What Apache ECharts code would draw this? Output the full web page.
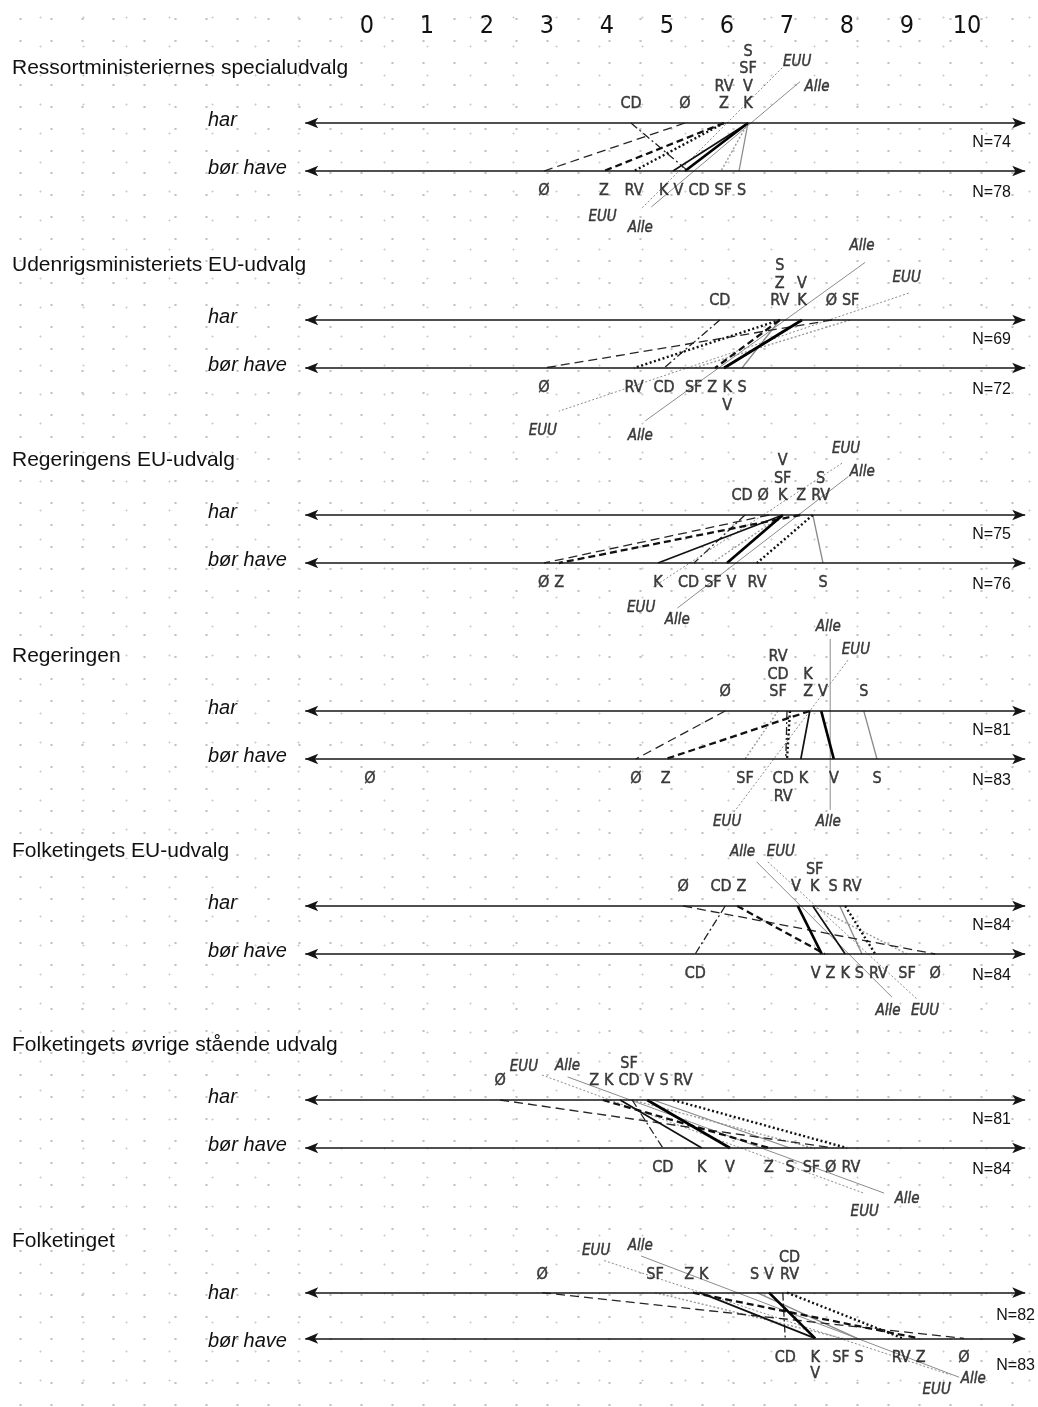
<!DOCTYPE html>
<html><head><meta charset="utf-8">
<script src="https://cdn.jsdelivr.net/npm/echarts@6/dist/echarts.min.js"></script>
<style>
html,body{margin:0;padding:0;background:#fff;}
#c{width:1038px;height:1407px;
background-image: radial-gradient(circle, #c2c2c2 0.9px, transparent 1.4px), radial-gradient(circle, #cfcfcf 0.8px, transparent 1.3px);
background-size: 31px 22px, 43px 29px;
background-position: 5px 8px, 19px 3px;}
</style></head><body><div id="c"></div>
<script>
// ---------------- DATA ----------------
const parties = ['Ø','Z','RV','K','V','CD','SF','S','EUU','Alle'];
const panelTitles = [
  'Ressortministeriernes specialudvalg',
  'Udenrigsministeriets EU-udvalg',
  'Regeringens EU-udvalg',
  'Regeringen',
  'Folketingets EU-udvalg',
  'Folketingets øvrige stående udvalg',
  'Folketinget'
];
const rowLabels = ['har','bør have'];
const tickLabels = ['0','1','2','3','4','5','6','7','8','9','10'];
const nHar = [74, 69, 75, 81, 84, 81, 82];
const nBor = [78, 72, 76, 83, 84, 84, 83];
// order of each row: Ø, Z, RV, K, V, CD, SF, S, EUU, Alle
const harValues = [
  [5.30, 5.95, 5.95, 6.35, 6.35, 4.40, 6.35, 6.35, 6.00, 6.40],
  [7.75, 6.88, 6.88, 7.25, 7.25, 5.88, 8.05, 6.88, 7.70, 6.97],
  [6.70, 7.22, 7.43, 6.93, 6.93, 6.30, 6.93, 7.43, 6.60, 7.19],
  [5.97, 7.38, 7.05, 7.38, 7.57, 7.00, 6.85, 8.28, 7.38, 7.72],
  [5.27, 6.17, 7.97, 7.43, 7.18, 5.97, 7.43, 7.88, 7.48, 7.23],
  [2.22, 3.93, 5.10, 4.22, 4.67, 4.42, 4.42, 4.77, 4.05, 4.39],
  [2.92, 5.43, 7.00, 5.55, 6.70, 6.93, 4.80, 6.50, 5.57, 6.17]
];
const borValues = [
  [2.95, 3.95, 4.45, 5.10, 5.30, 5.35, 5.90, 6.20, 5.20, 5.45],
  [2.95, 5.80, 4.45, 5.95, 5.95, 4.95, 5.45, 6.25, 5.33, 5.86],
  [2.95, 3.20, 6.50, 4.85, 6.00, 5.45, 5.75, 7.60, 5.38, 6.15],
  [4.48, 4.98, 7.00, 7.23, 7.78, 6.98, 6.30, 8.50, 6.78, 7.72],
  [9.47, 7.63, 8.47, 7.97, 7.58, 5.47, 9.00, 8.25, 8.35, 8.03],
  [7.77, 6.70, 8.00, 5.58, 6.05, 4.93, 7.43, 7.05, 6.23, 6.57],
  [9.95, 9.20, 8.93, 7.47, 7.47, 6.97, 7.93, 8.17, 7.88, 8.17]
];
// label stacks (first entry nearest the line)
const harStacks = [
  [['CD'],['Ø'],['Z','RV'],['K','V','SF','S']],
  [['CD'],['RV','Z','S'],['K','V'],['Ø'],['SF']],
  [['CD'],['Ø'],['K','SF','V'],['Z'],['RV','S']],
  [['Ø'],['SF','CD','RV'],['Z','K'],['V'],['S']],
  [['Ø'],['CD'],['Z'],['V'],['K','SF'],['S'],['RV']],
  [['Ø'],['Z'],['K'],['CD','SF'],['V'],['S'],['RV']],
  [['Ø'],['SF'],['Z'],['K'],['S'],['V'],['RV','CD']]
];
const borStacks = [
  [['Ø'],['Z'],['RV'],['K'],['V'],['CD'],['SF'],['S']],
  [['Ø'],['RV'],['CD'],['SF'],['Z'],['K','V'],['S']],
  [['Ø'],['Z'],['K'],['CD'],['SF'],['V'],['RV'],['S']],
  [['Ø'],['Z'],['SF'],['CD','RV'],['K'],['V'],['S']],
  [['CD'],['V'],['Z'],['K'],['S'],['RV'],['SF'],['Ø']],
  [['CD'],['K'],['V'],['Z'],['S'],['SF'],['Ø'],['RV']],
  [['CD'],['K','V'],['SF'],['S'],['RV'],['Z'],['Ø']]
];
const borExtraLabels = [[], [], [], [['Ø', 0.05]], [], [], []];

// ---------------- LAYOUT / STYLE ----------------
const X_MIN = -2, X_MAX = 11, PX = 60, ZERO_X = 367;
const GRID_LEFT = ZERO_X + X_MIN * PX;
const GRID_W = (X_MAX - X_MIN) * PX;
const HAR_Y = [123, 320, 515, 711, 906, 1100, 1296];
const ROW = 48;
const Y_MIN = -1.5, Y_MAX = 2.5;
const LINE_FROM = -1.03, LINE_TO = 10.97;
// extension of EUU / Alle lines beyond the rows, in row units: [EUU, Alle]
const extTop = [[1.15,0.86],[0.56,1.2],[1.08,0.8],[1.06,1.5],[0.92,0.92],[0.52,0.48],[0.7,0.8]];
const extBot = [[0.8,0.75],[0.9,1.1],[0.5,0.94],[1.1,1.06],[0.96,0.9],[0.94,0.94],[0.8,0.85]];
// pixel offsets of the EUU / Alle end labels from the line ends:
// [EUU top, EUU bottom, Alle top, Alle bottom]
const extLabelOff = [
  [[15,-6],[-38,8],[17,5],[-11,21]],
  [[-2,-15],[-16,20],[-3,-16],[-5,15]],
  [[4,-14],[-12,21],[14,-4],[0,12]],
  [[8,-10],[-7,10],[-2,-12],[-2,12]],
  [[13,-10],[7,11],[-14,-10],[-4,14]],
  [[-18,-8],[1,19],[0,-11],[23,6]],
  [[-8,-10],[-14,16],[-1,-10],[14,2]]
];
const N_RIGHT = [1011,1011,1011,1011,1011,1011,1035];
const SANS = '"Liberation Sans",Arial,sans-serif';

const ctx = document.createElement('canvas').getContext('2d');
function hasFont(name) {
  const s = 'abcdefghijRVSFCD0123456789';
  ctx.font = '40px monospace';
  const a = ctx.measureText(s).width;
  ctx.font = '40px "' + name + '", monospace';
  const b = ctx.measureText(s).width;
  return Math.abs(a - b) > 1;
}
const narrowChoices = [
  {name: 'Liberation Sans Narrow', label: 18, tick: 27, ext: 17},
  {name: 'Arial Narrow', label: 18, tick: 27, ext: 17},
  {name: 'DejaVu Sans Condensed', label: 16, tick: 25, ext: 15},
  {name: 'Liberation Sans', label: 16.5, tick: 26, ext: 15.5}
];
const FONTCHOICE = narrowChoices.find(f => hasFont(f.name)) || narrowChoices[3];
const NARROW = '"' + FONTCHOICE.name + '",' + SANS;
const LABEL_SIZE = FONTCHOICE.label, EXT_SIZE = FONTCHOICE.ext, TICK_SIZE = FONTCHOICE.tick;

const partyStyle = {
  'Ø':   {color:'#262626', width:1.3, type:[9,5], z:3},
  'Z':   {color:'#111',    width:2.3, type:[7,4], z:4},
  'RV':  {color:'#111',    width:2.4, type:[2,2.5], z:4},
  'K':   {color:'#111',    width:1.7, type:'solid', z:4},
  'V':   {color:'#000',    width:2.7, type:'solid', z:4},
  'CD':  {color:'#222',    width:1.3, type:[8,3,2,3], z:3},
  'SF':  {color:'#9a9a9a', width:1.4, type:[2,2], z:2},
  'S':   {color:'#8a8a8a', width:1.3, type:'solid', z:2},
  'EUU': {color:'#8c8c8c', width:1.0, type:[2,2], z:2},
  'Alle':{color:'#8c8c8c', width:1.0, type:'solid', z:2}
};

function tw(t, size, italic) {
  ctx.font = (italic ? 'italic ' : '') + size + 'px ' + NARROW;
  return ctx.measureText(t).width;
}
function spread(items, gap) {
  items.sort((a, b) => a.x - b.x);
  for (let it = 0; it < 300; it++) {
    let moved = false;
    for (let i = 0; i < items.length - 1; i++) {
      const a = items[i], b = items[i + 1];
      const need = (a.w + b.w) / 2 + gap - (b.x - a.x);
      if (need > 0.01) { a.x -= need / 2; b.x += need / 2; moved = true; }
    }
    if (!moved) break;
  }
}

const grids = [], xAxes = [], yAxes = [], series = [], graphics = [];
const idx = name => parties.indexOf(name);
const textBold = {textBorderColor: '#111', textBorderWidth: 0.45};

panelTitles.forEach((title, p) => {
  grids.push({left: GRID_LEFT, width: GRID_W, top: HAR_Y[p] - (Y_MAX - 1) * ROW, height: (Y_MAX - Y_MIN) * ROW});
  xAxes.push({
    gridIndex: p, type: 'value', min: X_MIN, max: X_MAX, interval: 1,
    show: p === 0, position: 'top',
    axisLine: {show: false}, axisTick: {show: false}, splitLine: {show: false},
    axisLabel: {
      show: p === 0, margin: 12, fontSize: TICK_SIZE, fontFamily: NARROW, color: '#111',
      formatter: v => (v >= 0 && v <= 10 && Math.round(v) === v) ? tickLabels[v] : ''
    }
  });
  yAxes.push({gridIndex: p, type: 'value', min: Y_MIN, max: Y_MAX, show: false});

  // party lines
  parties.forEach((name, i) => {
    const h = harValues[p][i], b = borValues[p][i];
    const st = partyStyle[name];
    let data;
    if (i >= 8) {
      const j = i - 8, s = h - b;
      const et = extTop[p][j], eb = extBot[p][j];
      data = [[h + s * et, 1 + et], [h, 1], [b, 0], [b - s * eb, -eb]];
    } else {
      data = [[h, 1], [b, 0]];
    }
    series.push({
      type: 'line', xAxisIndex: p, yAxisIndex: p, data: data,
      symbol: 'none', silent: true, clip: false, z: st.z,
      lineStyle: {color: st.color, width: st.width, type: st.type, cap: 'butt'}
    });
  });

  // party labels
  const labelData = [];
  const rowsSpec = [
    {stacks: harStacks[p], vals: harValues[p], extra: [], y0: 1, dir: 1, first: 19},
    {stacks: borStacks[p], vals: borValues[p], extra: borExtraLabels[p], y0: 0, dir: -1, first: 20}
  ];
  rowsSpec.forEach(r => {
    const items = r.stacks.map(stk => ({
      texts: stk,
      x: ZERO_X + PX * r.vals[idx(stk[0])],
      w: Math.max(...stk.map(t => tw(t, LABEL_SIZE)))
    }));
    r.extra.forEach(e => items.push({texts: [e[0]], x: ZERO_X + PX * e[1], w: tw(e[0], LABEL_SIZE)}));
    spread(items, 5);
    items.forEach(it => {
      it.texts.forEach((t, k) => {
        labelData.push({
          value: [(it.x - ZERO_X) / PX, r.y0 + r.dir * (r.first + 17.5 * k) / ROW],
          label: {formatter: t}
        });
      });
    });
  });
  // EUU / Alle end labels
  [8, 9].forEach(i => {
    const name = parties[i], j = i - 8;
    const h = harValues[p][i], b = borValues[p][i], s = h - b;
    const et = extTop[p][j], eb = extBot[p][j];
    const offT = extLabelOff[p][j * 2], offB = extLabelOff[p][j * 2 + 1];
    const top = [h + s * et + offT[0] / PX, 1 + et - offT[1] / ROW];
    const bot = [b - s * eb + offB[0] / PX, -eb - offB[1] / ROW];
    [top, bot].forEach(pt => labelData.push({
      value: pt,
      label: {formatter: name, fontStyle: 'italic', fontSize: EXT_SIZE}
    }));
  });

  series.push({
    type: 'scatter', xAxisIndex: p, yAxisIndex: p, data: labelData,
    symbol: 'circle', symbolSize: 1, itemStyle: {color: 'rgba(0,0,0,0)'},
    silent: true, clip: false, z: 6,
    label: Object.assign({show: true, position: 'inside', color: '#111', fontSize: LABEL_SIZE, fontFamily: NARROW}, textBold),
    markLine: {
      silent: true, symbol: ['arrow', 'arrow'], symbolSize: [8, 13],
      label: {show: false},
      lineStyle: {color: '#151515', width: 1.7, type: 'solid'},
      data: [
        [{coord: [LINE_FROM, 1]}, {coord: [LINE_TO, 1]}],
        [{coord: [LINE_FROM, 0]}, {coord: [LINE_TO, 0]}]
      ]
    }
  });

  // texts
  const txt = (text, x, y, font, align) => ({
    type: 'text', z: 10, silent: true,
    style: {text: text, x: x, y: y, font: font, fill: '#111',
      textAlign: align, textVerticalAlign: 'middle', align: align, verticalAlign: 'middle'}
  });
  graphics.push(txt(title, 12, HAR_Y[p] - 55, '21px ' + SANS, 'left'));
  graphics.push(txt(rowLabels[0], 208, HAR_Y[p] - 3, 'italic 20px ' + SANS, 'left'));
  graphics.push(txt(rowLabels[1], 208, HAR_Y[p] + ROW - 3, 'italic 20px ' + SANS, 'left'));
  graphics.push(txt('N=' + nHar[p], N_RIGHT[p], HAR_Y[p] + 20, '16px ' + SANS, 'right'));
  graphics.push(txt('N=' + nBor[p], N_RIGHT[p], HAR_Y[p] + ROW + 22, '16px ' + SANS, 'right'));
});

const chart = echarts.init(document.getElementById('c'), null, {renderer: 'canvas'});
chart.setOption({
  animation: false,
  backgroundColor: 'transparent',
  grid: grids, xAxis: xAxes, yAxis: yAxes,
  series: series,
  graphic: graphics
});
</script>
</body></html>
